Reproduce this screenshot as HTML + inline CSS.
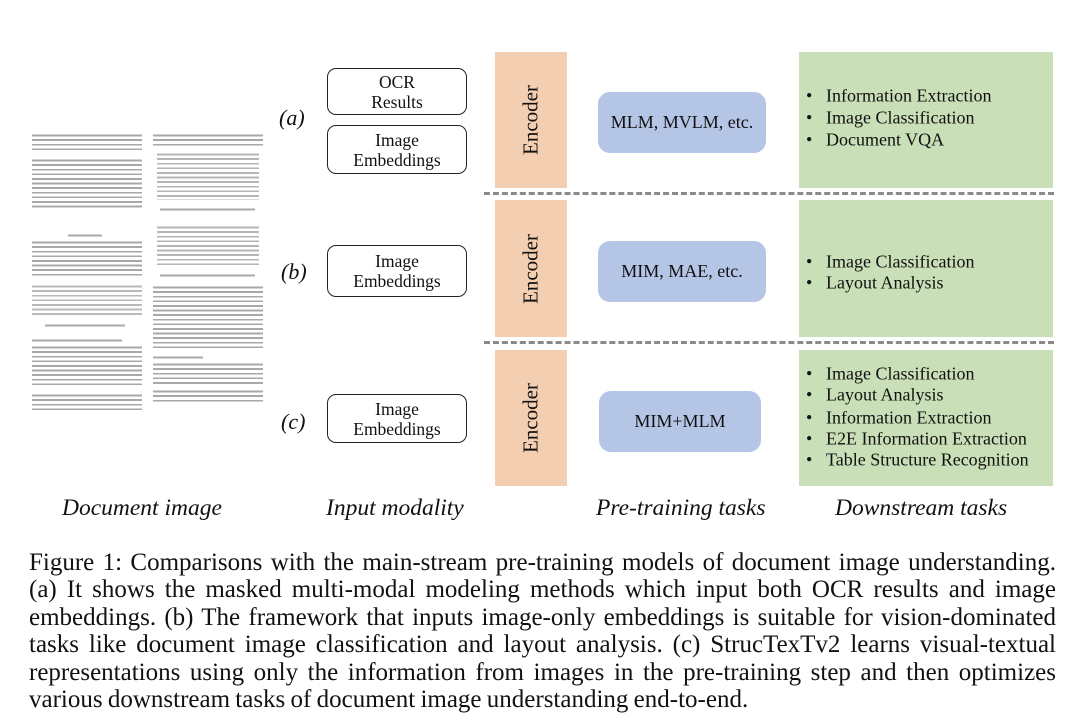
<!DOCTYPE html>
<html><head><meta charset="utf-8"><style>
body{margin:0;width:1080px;height:726px;background:#fff;position:relative;overflow:hidden;font-family:"Liberation Serif",serif;color:#111}
.enc{position:absolute;left:495px;width:72px;background:#f4ceb0}
.enc span{position:absolute;left:50%;top:50%;transform:translate(-50%,-50%) rotate(-90deg);font-size:21px;white-space:nowrap}
.grn{position:absolute;left:799px;width:254px;background:#c9dfb7}
.blue{position:absolute;background:#b5c5e6;border-radius:12px;display:flex;align-items:center;justify-content:center;font-size:18px}
.inp{position:absolute;left:327px;width:140px;border:1.5px solid #222;border-radius:9px;text-align:center;font-size:17.5px;line-height:20px;box-sizing:border-box;display:flex;align-items:center;justify-content:center}
.dash{position:absolute;left:484px;width:570px;height:0;border-top:3px dashed #8a8a8a}
.lab{position:absolute;font-style:italic;font-size:22px}
.li{position:absolute;left:806px;font-size:18px;white-space:nowrap;transform:translateY(-50%)}
.li b{font-weight:normal;display:inline-block;width:20px}
.head{position:absolute;top:495px;font-style:italic;font-size:23.5px;white-space:nowrap}
.cap{position:absolute;left:29px;width:1027px;font-size:25px;text-align:justify;text-align-last:justify;white-space:nowrap;line-height:27.5px;word-spacing:-1px}
.col{position:absolute;background:repeating-linear-gradient(#fff 0 1.6px,#a8a8a8 1.6px 3.4px,#fff 3.4px 4.6px)}
</style></head><body>
<div class="col" style="left:32px;top:133px;width:110px;height:18px"></div>
<div class="col" style="left:32px;top:158px;width:110px;height:52px"></div>
<div class="col" style="left:68px;top:233px;width:34px;height:4px"></div>
<div class="col" style="left:32px;top:240px;width:110px;height:38px"></div>
<div class="col" style="left:32px;top:284px;width:110px;height:33px;opacity:.8"></div>
<div class="col" style="left:45px;top:323px;width:80px;height:5px"></div>
<div class="col" style="left:32px;top:338px;width:90px;height:5px"></div>
<div class="col" style="left:32px;top:345px;width:110px;height:42px"></div>
<div class="col" style="left:32px;top:393px;width:110px;height:18px"></div>
<div class="col" style="left:153px;top:133px;width:110px;height:14px"></div>
<div class="col" style="left:157px;top:152px;width:102px;height:48px;opacity:.85"></div>
<div class="col" style="left:160px;top:207px;width:95px;height:5px"></div>
<div class="col" style="left:157px;top:225px;width:102px;height:42px;opacity:.85"></div>
<div class="col" style="left:160px;top:273px;width:95px;height:5px"></div>
<div class="col" style="left:153px;top:285px;width:110px;height:65px"></div>
<div class="col" style="left:153px;top:355px;width:50px;height:5px"></div>
<div class="col" style="left:153px;top:362px;width:110px;height:22px"></div>
<div class="col" style="left:153px;top:389px;width:110px;height:14px"></div>

<div class="lab" style="left:279px;top:105px">(a)</div>
<div class="lab" style="left:281px;top:259px">(b)</div>
<div class="lab" style="left:281px;top:409px">(c)</div>

<div class="inp" style="top:68px;height:47px">OCR<br>Results</div>
<div class="inp" style="top:125px;height:49px">Image<br>Embeddings</div>
<div class="inp" style="top:245px;height:52px">Image<br>Embeddings</div>
<div class="inp" style="top:394px;height:49px">Image<br>Embeddings</div>

<div class="enc" style="top:52px;height:136px"><span>Encoder</span></div>
<div class="enc" style="top:200px;height:137px"><span>Encoder</span></div>
<div class="enc" style="top:350px;height:136px"><span>Encoder</span></div>

<div class="blue" style="left:598px;top:92px;width:168px;height:61px">MLM, MVLM, etc.</div>
<div class="blue" style="left:598px;top:241px;width:168px;height:61px">MIM, MAE, etc.</div>
<div class="blue" style="left:599px;top:391px;width:162px;height:61px">MIM+MLM</div>

<div class="grn" style="top:52px;height:136px"></div>
<div class="grn" style="top:200px;height:137px"></div>
<div class="grn" style="top:350px;height:136px"></div>

<div class="li" style="top:96px"><b>•</b>Information Extraction</div>
<div class="li" style="top:118px"><b>•</b>Image Classification</div>
<div class="li" style="top:140px"><b>•</b>Document VQA</div>
<div class="li" style="top:262px"><b>•</b>Image Classification</div>
<div class="li" style="top:283px"><b>•</b>Layout Analysis</div>
<div class="li" style="top:374px"><b>•</b>Image Classification</div>
<div class="li" style="top:395px"><b>•</b>Layout Analysis</div>
<div class="li" style="top:418px"><b>•</b>Information Extraction</div>
<div class="li" style="top:439px"><b>•</b>E2E Information Extraction</div>
<div class="li" style="top:460px"><b>•</b>Table Structure Recognition</div>

<div class="dash" style="top:192px"></div>
<div class="dash" style="top:341px"></div>

<div class="head" style="left:62px">Document image</div>
<div class="head" style="left:326px">Input modality</div>
<div class="head" style="left:596px">Pre-training tasks</div>
<div class="head" style="left:835px">Downstream tasks</div>

<div class="cap" style="top:549px">Figure 1: Comparisons with the main-stream pre-training models of document image understanding.</div>
<div class="cap" style="top:576px">(a) It shows the masked multi-modal modeling methods which input both OCR results and image</div>
<div class="cap" style="top:604px">embeddings. (b) The framework that inputs image-only embeddings is suitable for vision-dominated</div>
<div class="cap" style="top:631px">tasks like document image classification and layout analysis. (c) StrucTexTv2 learns visual-textual</div>
<div class="cap" style="top:659px">representations using only the information from images in the pre-training step and then optimizes</div>
<div class="cap" style="top:686px;text-align-last:left;width:auto">various downstream tasks of document image understanding end-to-end.</div>
</body></html>
